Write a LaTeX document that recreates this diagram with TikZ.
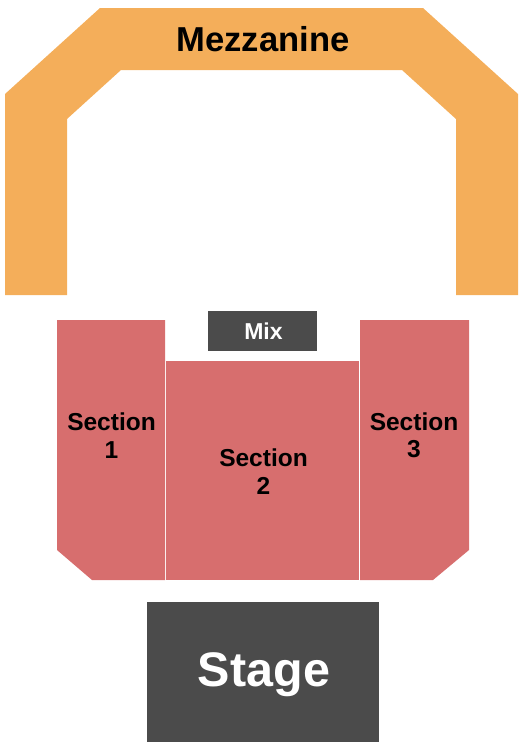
\documentclass[tikz,border=0pt]{standalone}
\usepackage{fontspec}
\setmainfont{Liberation Sans}
\definecolor{mezz}{HTML}{F4AE5A}
\definecolor{sect}{HTML}{D76E6E}
\definecolor{darkbox}{HTML}{4B4B4B}
\begin{document}
\begin{tikzpicture}[x=1pt,y=-1pt,
  mezzfill/.style={fill=mezz,draw=none},
  sectfill/.style={fill=sect,draw=none},
  darkfill/.style={fill=darkbox,draw=none},
  blacklabel/.style={inner sep=0pt,text=black,font=\bfseries\fontsize{24.5}{27.5}\selectfont,align=center},
  whitelabel/.style={inner sep=0pt,text=white,font=\bfseries}
]
\useasboundingbox (0,0) rectangle (525,750);
% Mezzanine
\fill[mezzfill] (5,295) -- (5,94) -- (100,8) -- (423,8) -- (518,94) -- (518,295) -- (456,295) -- (456,119) -- (402,70) -- (121,70) -- (67,119) -- (67,295) -- cycle;
\node[inner sep=0pt,anchor=base,font=\bfseries\fontsize{34.6}{40}\selectfont] (mezz) at (263,51.5) {Mezzanine};
% Mix
\fill[darkfill] (208,311) rectangle (317,351);
\node[whitelabel,anchor=base,font=\bfseries\fontsize{23}{27}\selectfont] (mix) at (263.5,339.3) {Mix};
% Sections
\fill[sectfill] (57,320) -- (165,320) -- (165,580) -- (92,580) -- (57,550) -- cycle;
\fill[sectfill] (166,361) rectangle (359,580);
\fill[sectfill] (360,320) -- (469,320) -- (469,550) -- (433,580) -- (360,580) -- cycle;
\node[blacklabel] (s1) at (111.5,435.5) {Section\\1};
\node[blacklabel] (s2) at (263.5,471.5) {Section\\2};
\node[blacklabel] (s3) at (414,435.5) {Section\\3};
% Stage
\fill[darkfill] (147,602) rectangle (379,742);
\node[whitelabel,anchor=base,font=\bfseries\fontsize{48.5}{56}\selectfont] (stage) at (264,686) {Stage};
\end{tikzpicture}
\end{document}
